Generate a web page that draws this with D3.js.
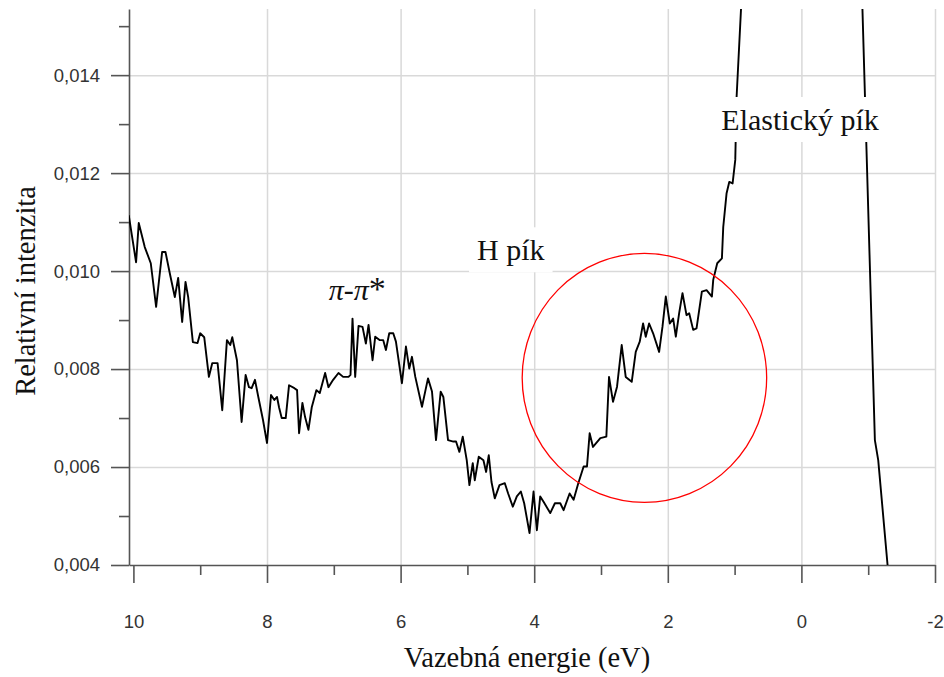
<!DOCTYPE html>
<html>
<head>
<meta charset="utf-8">
<script src="https://cdn.jsdelivr.net/npm/d3@7"></script>
<style>
  body { margin: 0; background: #fff; }
  .grid line { stroke: #d9d9d9; stroke-width: 1.5; }
  .grid path { display: none; }
  .axis path, .axis line { stroke: #555; stroke-width: 1.6; }
  .axis text { font-family: Arial, 'Liberation Sans', sans-serif; font-size: 18.5px; fill: #333; }
  .title { font-family: 'Liberation Serif', 'Times New Roman', serif; font-size: 28.5px; fill: #111; }
  .note { font-family: 'Liberation Serif', 'Times New Roman', serif; font-size: 30px; fill: #111; }
</style>
</head>
<body>
<div id="chart"></div>
<script>
// binding energy (eV)
const energy = [
  10.07, 9.96, 9.92, 9.83, 9.74, 9.66, 9.57, 9.52, 9.45, 9.38,
  9.33, 9.27, 9.22, 9.18, 9.11, 9.04, 9.00, 8.94, 8.87, 8.82,
  8.74, 8.67, 8.60, 8.55, 8.52, 8.45, 8.38, 8.32, 8.27, 8.23,
  8.18, 8.13, 8.06, 8.00, 7.94, 7.89, 7.85, 7.82, 7.78, 7.72,
  7.67, 7.59, 7.55, 7.52, 7.47, 7.43, 7.38, 7.33, 7.26, 7.21,
  7.13, 7.08, 7.01, 6.93, 6.86, 6.78, 6.75, 6.72, 6.68, 6.63,
  6.57, 6.52, 6.48, 6.42, 6.38, 6.31, 6.26, 6.22, 6.17, 6.11,
  6.07, 5.98, 5.92, 5.87, 5.83, 5.78, 5.68, 5.59, 5.53, 5.47,
  5.40, 5.36, 5.29, 5.21, 5.17, 5.12, 5.07, 5.01, 4.97, 4.92,
  4.89, 4.83, 4.76, 4.72, 4.68, 4.64, 4.59, 4.52, 4.44, 4.39,
  4.32, 4.26, 4.20, 4.15, 4.07, 4.01, 3.96, 3.91, 3.86, 3.76,
  3.69, 3.61, 3.56, 3.47, 3.41, 3.34, 3.26, 3.21, 3.17, 3.12,
  3.01, 2.92, 2.88, 2.82, 2.76, 2.69, 2.63, 2.54, 2.48, 2.42,
  2.37, 2.33, 2.28, 2.22, 2.13, 2.08, 2.03, 1.97, 1.92, 1.88,
  1.83, 1.78, 1.72, 1.68, 1.62, 1.57, 1.49, 1.42, 1.34, 1.32,
  1.26, 1.19, 1.17, 1.12, 1.08, 1.03, 0.99, 0.97, 0.88,
  -0.90, -1.10, -1.15, -1.29
];

// relative intensity at each energy
const intensity = [
  0.01114, 0.01018, 0.01098, 0.01049, 0.01016, 0.00927, 0.01039, 0.01039, 0.00992, 0.00947,
  0.00986, 0.00896, 0.00978, 0.00947, 0.00855, 0.00853, 0.00873, 0.00865, 0.00784, 0.00812,
  0.00812, 0.00716, 0.00859, 0.00849, 0.00865, 0.00818, 0.00692, 0.00788, 0.00763, 0.00761,
  0.00778, 0.00743, 0.00696, 0.00649, 0.00747, 0.00737, 0.00743, 0.00722, 0.00700, 0.00700,
  0.00767, 0.00761, 0.00757, 0.00669, 0.00731, 0.00702, 0.00676, 0.00722, 0.00757, 0.00751,
  0.00792, 0.00763, 0.00778, 0.00792, 0.00784, 0.00784, 0.00788, 0.00903, 0.00784, 0.00888,
  0.00886, 0.00852, 0.00890, 0.00818, 0.00866, 0.00859, 0.00859, 0.00839, 0.00873, 0.00873,
  0.00856, 0.00771, 0.00846, 0.00801, 0.00825, 0.00784, 0.00723, 0.00781, 0.00754, 0.00655,
  0.00754, 0.00743, 0.00655, 0.00652, 0.00652, 0.00631, 0.00662, 0.00614, 0.00563, 0.00608,
  0.00573, 0.00621, 0.00614, 0.00590, 0.00624, 0.00570, 0.00536, 0.00563, 0.00567, 0.00546,
  0.00519, 0.00540, 0.00550, 0.00526, 0.00465, 0.00550, 0.00471, 0.00540, 0.00529, 0.00506,
  0.00526, 0.00526, 0.00512, 0.00546, 0.00533, 0.00567, 0.00601, 0.00601, 0.00669, 0.00641,
  0.00659, 0.00662, 0.00784, 0.00733, 0.00764, 0.00849, 0.00784, 0.00774, 0.00835, 0.00856,
  0.00893, 0.00866, 0.00893, 0.00873, 0.00835, 0.00886, 0.00948, 0.00893, 0.00903, 0.00866,
  0.00914, 0.00955, 0.00910, 0.00914, 0.00880, 0.00883, 0.00958, 0.00961, 0.00948, 0.00982,
  0.01016, 0.01026, 0.01090, 0.01159, 0.01182, 0.01179, 0.01227, 0.01356, 0.01600,
  0.01600, 0.00655, 0.00614, 0.00400
];

const xTicks = [10, 8, 6, 4, 2, 0, -2];
const xMinorTicks = [9, 7, 5, 3, 1, -1];
const yTicks = [0.004, 0.006, 0.008, 0.010, 0.012, 0.014];
const yMinorTicks = [0.005, 0.007, 0.009, 0.011, 0.013, 0.015];

const labelText = ['π-π*', 'H pík', 'Elastický pík'];
const labelEnergy = [6.65, 4.35, 0.02];
const labelIntensity = [0.00941, 0.01022, 0.01288];

// the red ring around the H peak: centre and radii in data units
const ringCentre = [2.35, 0.00782];
const ringRadius = [1.83, 0.00254];

const margin = { left: 129, right: 9, top: 9, bottom: 112 };
const width = 944 - margin.left - margin.right;
const height = 677 - margin.top - margin.bottom;

const x = d3.scaleLinear().domain([10.066, -2]).range([0, width]);
const y = d3.scaleLinear().domain([0.004, 0.01535]).range([height, 0]);

const fmt = d => d3.format('.3f')(d).replace('.', ',');

const svg = d3.select('#chart').append('svg')
    .attr('width', 944)
    .attr('height', 677)
    .style('background', '#fff');

const g = svg.append('g')
    .attr('transform', 'translate(' + margin.left + ',' + margin.top + ')');

// grid
g.append('g')
    .attr('class', 'grid')
    .call(d3.axisLeft(y).tickValues(yTicks.slice(1)).tickSize(-width).tickFormat(''));

g.append('g')
    .attr('class', 'grid')
    .attr('transform', 'translate(0,' + height + ')')
    .call(d3.axisBottom(x).tickValues(xTicks.slice(1)).tickSize(-height).tickFormat(''));

// axes
g.append('g')
    .attr('class', 'axis')
    .call(d3.axisLeft(y).tickValues(yTicks).tickSize(18).tickSizeOuter(0).tickPadding(11).tickFormat(fmt));

g.append('g')
    .attr('class', 'axis')
    .call(d3.axisLeft(y).tickValues(yMinorTicks).tickSize(10).tickSizeOuter(0).tickFormat(''))
    .select('.domain').remove();

g.append('g')
    .attr('class', 'axis')
    .attr('transform', 'translate(0,' + height + ')')
    .call(d3.axisBottom(x).tickValues(xTicks).tickSize(18).tickSizeOuter(0).tickPadding(32).tickFormat(d => String(d)));

g.append('g')
    .attr('class', 'axis')
    .attr('transform', 'translate(0,' + height + ')')
    .call(d3.axisBottom(x).tickValues(xMinorTicks).tickSize(10).tickSizeOuter(0).tickFormat(''))
    .select('.domain').remove();

// spectrum
g.append('clipPath')
    .attr('id', 'plotClip')
  .append('rect')
    .attr('width', width)
    .attr('height', height);

const line = d3.line()
    .x(function(d, i){ return x(energy[i]); })
    .y(function(d, i){ return y(intensity[i]); });

g.append('path')
    .attr('clip-path', 'url(#plotClip)')
    .attr('fill', 'none')
    .attr('stroke', '#000')
    .attr('stroke-width', 1.9)
    .attr('stroke-linejoin', 'round')
    .attr('d', line(energy));

// ring
g.append('ellipse')
    .attr('cx', x(ringCentre[0]))
    .attr('cy', y(ringCentre[1]))
    .attr('rx', Math.abs(x(ringCentre[0] + ringRadius[0]) - x(ringCentre[0])))
    .attr('ry', Math.abs(y(ringCentre[1] + ringRadius[1]) - y(ringCentre[1])))
    .attr('fill', 'none')
    .attr('stroke', '#ff0000')
    .attr('stroke-width', 1.3);

// labels; the peak labels get white boxes behind them
labelText.forEach(function(t, i) {
  const lg = g.append('g');
  const box = lg.append('rect').attr('fill', '#fff');
  const txt = lg.append('text')
      .attr('class', 'note')
      .attr('x', x(labelEnergy[i]))
      .attr('y', y(labelIntensity[i]))
      .attr('text-anchor', 'middle');
  if (i === 0) {
    txt.append('tspan').attr('font-style', 'italic').text('π');
    txt.append('tspan').text('-');
    txt.append('tspan').attr('font-style', 'italic').text('π');
    txt.append('tspan').attr('font-size', '34px').text('*');
    box.remove();
    return;
  }
  txt.text(t);
  const bb = txt.node().getBBox();
  box.attr('x', bb.x - 8).attr('y', bb.y - 6)
     .attr('width', bb.width + 16).attr('height', bb.height + 12);
});

// axis titles
svg.append('text')
    .attr('class', 'title')
    .attr('x', 527)
    .attr('y', 667)
    .attr('text-anchor', 'middle')
    .text('Vazebná energie (eV)');

svg.append('text')
    .attr('class', 'title')
    .attr('transform', 'translate(35,291) rotate(-90)')
    .attr('text-anchor', 'middle')
    .text('Relativní intenzita');
</script>
</body>
</html>
